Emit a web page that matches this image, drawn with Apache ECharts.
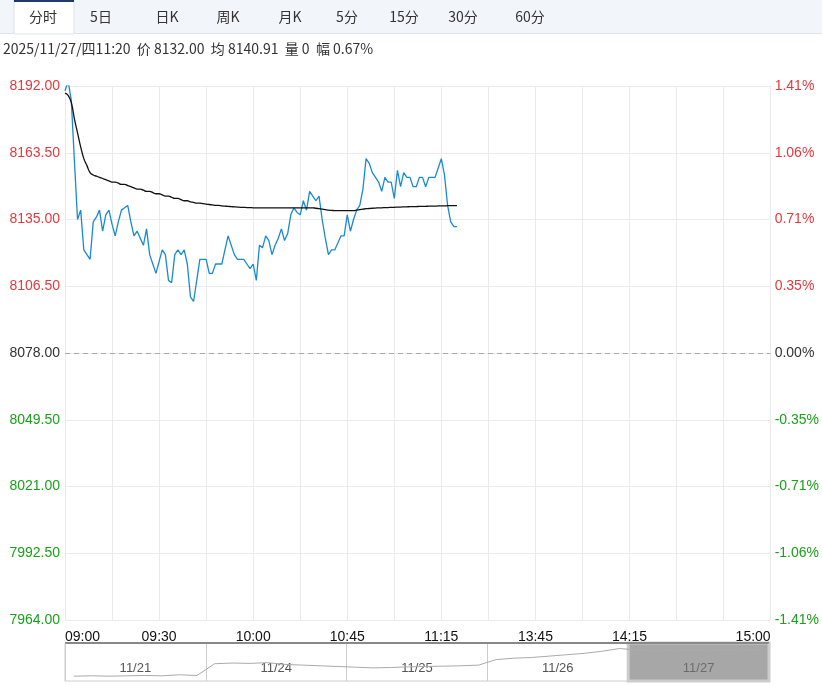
<!DOCTYPE html>
<html><head><meta charset="utf-8">
<script src="https://cdn.jsdelivr.net/npm/echarts@6/dist/echarts.min.js"></script>
<style>html,body{margin:0;padding:0;background:#fff}#c{width:822px;height:685px}</style>
</head><body><div id="c"></div>
<script>
const tabs = ['分时','5日','日K','周K','月K','5分','15分','30分','60分'];
const infoText = '2025/11/27/四11:20  价 8132.00  均 8140.91  量 0  幅 0.67%';
const preClose = 8078;
const yTicks = [7964, 7992.5, 8021, 8049.5, 8078, 8106.5, 8135, 8163.5, 8192];
const labelTimes = {0:'09:00',30:'09:30',60:'10:00',90:'10:45',120:'11:15',150:'13:45',180:'14:15',225:'15:00'};
const price = [8190,8194,8186,8160,8135,8139,8122,8120,8118,8134,8136,8139,8130,8137,8139,8133,8128,8134,8139,8140,8141,8134,8128,8130,8127,8124,8131,8120,8116,8112,8117,8122,8120,8109,8108,8120,8122,8120,8122,8116,8102,8100,8109,8118,8118,8118,8112,8112,8116,8116,8116,8122,8128,8124,8120,8118,8118,8118,8116,8114,8116,8109,8124,8123,8128,8126,8120,8124,8127,8131,8126,8129,8137,8140,8138,8137,8143,8139,8147,8145,8143,8145,8135,8127,8120,8122,8122,8125,8128,8128,8137,8130,8135,8139,8141,8148,8161,8159,8155,8153,8151,8147,8153,8151,8151,8144,8156,8149,8155,8153,8153,8149,8149,8153,8153,8149,8153,8153,8153,8157,8161,8154,8141,8134,8132,8132];
const avg = [8189,8188,8185,8178,8172,8166,8161,8158,8155,8154,8153.5,8153,8152.5,8152,8151.5,8151,8151,8150.5,8150,8150,8149.5,8149,8148.5,8148,8148,8147.5,8147,8147,8146.5,8146,8146,8145.5,8145,8145,8144.5,8144,8144,8143.5,8143,8143,8142.5,8142.3,8142,8142,8141.8,8141.6,8141.4,8141.2,8141,8141,8140.8,8140.7,8140.6,8140.5,8140.4,8140.3,8140.2,8140.2,8140.1,8140.1,8140,8140,8140,8140,8140,8140,8140,8140,8140,8140,8140,8140,8140,8140,8140,8140,8140,8140,8140,8140,8139.8,8139.6,8139.4,8139.2,8139,8138.9,8138.8,8138.8,8138.8,8138.8,8138.8,8138.8,8138.8,8139,8139.2,8139.4,8139.6,8139.7,8139.8,8139.9,8140,8140,8140.1,8140.1,8140.2,8140.2,8140.3,8140.3,8140.4,8140.4,8140.5,8140.5,8140.5,8140.6,8140.6,8140.6,8140.7,8140.7,8140.7,8140.8,8140.8,8140.8,8140.9,8140.9,8140.9,8140.9];
const dayLabels = ['11/21','11/24','11/25','11/26','11/27'];
const overview = [4,5,4,5,6,5,8,6, 40,42,41,43,38,36,34,32, 30,28,29,31,32,33,34,36, 52,56,58,62,66,70,76,84, 80,78,79,80,79,81,80,81];

const times = [];
(function(){
  function push(h,m){times.push(String(h).padStart(2,'0')+':'+String(m).padStart(2,'0'));}
  push(9,0);
  for(let t=9*60+1;t<=10*60+15;t++) push(Math.floor(t/60),t%60);
  for(let t=10*60+31;t<=11*60+30;t++) push(Math.floor(t/60),t%60);
  for(let t=13*60+31;t<=15*60;t++) push(Math.floor(t/60),t%60);
})();

const chart = echarts.init(document.getElementById('c'));
const tabX = [43,101,167,228,290,347,404,463,530];
const graphics = [
  {type:'rect',shape:{x:0,y:0,width:822,height:33},style:{fill:'#f2f5fa'},silent:true},
  {type:'rect',shape:{x:0,y:33,width:822,height:1},style:{fill:'#dde3ec'},silent:true},
  {type:'rect',shape:{x:14,y:0,width:60,height:34},style:{fill:'#fff',stroke:'#dde3ec'},silent:true},
  {type:'rect',shape:{x:14,y:0,width:60,height:2},style:{fill:'#1f3a6e'},silent:true},
  {type:'text',left:3,top:42,style:{text:infoText,font:'14px "Noto Sans CJK SC", sans-serif',fill:'#333'}},
  {type:'rect',shape:{x:65,y:642,width:704,height:2},style:{fill:'#444'},silent:true,z:10},
  {type:'rect',shape:{x:65,y:643,width:704,height:38},style:{fill:'none',stroke:'#ccc'},silent:true,z:10}
];
tabs.forEach((t,i)=>graphics.push({type:'text',x:tabX[i],y:17,style:{text:t,align:'center',verticalAlign:'middle',font:'14px "Noto Sans CJK SC", sans-serif',fill:'#333'}}));

function lblColor(v){return v>preClose+0.01?'#e4393c':(v<preClose-0.01?'#1aa01a':'#333');}
chart.setOption({
  animation:false,
  graphic:graphics,
  grid:[{left:65,right:50,top:86,bottom:65},{left:65,right:53,top:643,bottom:4}],
  xAxis:[{type:'category',gridIndex:0,data:times,boundaryGap:false,
    axisLine:{show:false},axisTick:{show:false},
    axisLabel:{interval:(i)=>labelTimes[i]!==undefined,formatter:(v,i)=>labelTimes[i]||'',color:'#111',fontSize:14,margin:10,showMinLabel:true,showMaxLabel:true,alignMinLabel:'left',alignMaxLabel:'right'},
    splitLine:{show:true,interval:(i)=>i%15===0,lineStyle:{color:'#ebebeb'}}},
    {type:'category',gridIndex:1,data:dayLabels,boundaryGap:true,axisLine:{show:false},axisTick:{show:false},
     axisLabel:{inside:true,verticalAlign:'bottom',margin:6,color:'#555',fontSize:13},
     splitLine:{show:true,interval:0,lineStyle:{color:'#ccc'}}},
    {type:'value',gridIndex:1,min:0,max:40,show:false}],
  yAxis:[{type:'value',min:7964,max:8192,interval:28.5,
    axisLine:{show:false},axisTick:{show:false},
    axisLabel:{fontSize:14,margin:5,formatter:v=>v.toFixed(2),color:v=>lblColor(+v)},
    splitLine:{lineStyle:{color:'#ebebeb'}}},
   {type:'value',min:7964,max:8192,interval:28.5,position:'right',
    axisLine:{show:false},axisTick:{show:false},splitLine:{show:false},
    axisLabel:{fontSize:14,margin:4,formatter:v=>((v-preClose)/preClose*100).toFixed(2)+'%',color:v=>lblColor(+v)}},
   {type:'value',gridIndex:1,min:-10,max:100,show:false}],
  series:[
    {type:'line',data:price,symbol:'none',lineStyle:{color:'#1a8ad0',width:1.3},z:3,
     markLine:{silent:true,symbol:'none',label:{show:false},lineStyle:{color:'#aaa',type:[5,4],width:1},data:[{yAxis:preClose}]}},
    {type:'line',data:avg,symbol:'none',smooth:true,lineStyle:{color:'#111',width:1.3},z:4},
    {type:'line',xAxisIndex:2,yAxisIndex:2,data:overview.map((v,i)=>[i+0.5,v]),symbol:'none',lineStyle:{color:'#aaa',width:1},
     markArea:{silent:true,itemStyle:{color:'rgba(120,120,120,0.65)',borderColor:'#ccc',borderWidth:3},data:[[{xAxis:32},{xAxis:40}]]}}
  ]
});
</script></body></html>
